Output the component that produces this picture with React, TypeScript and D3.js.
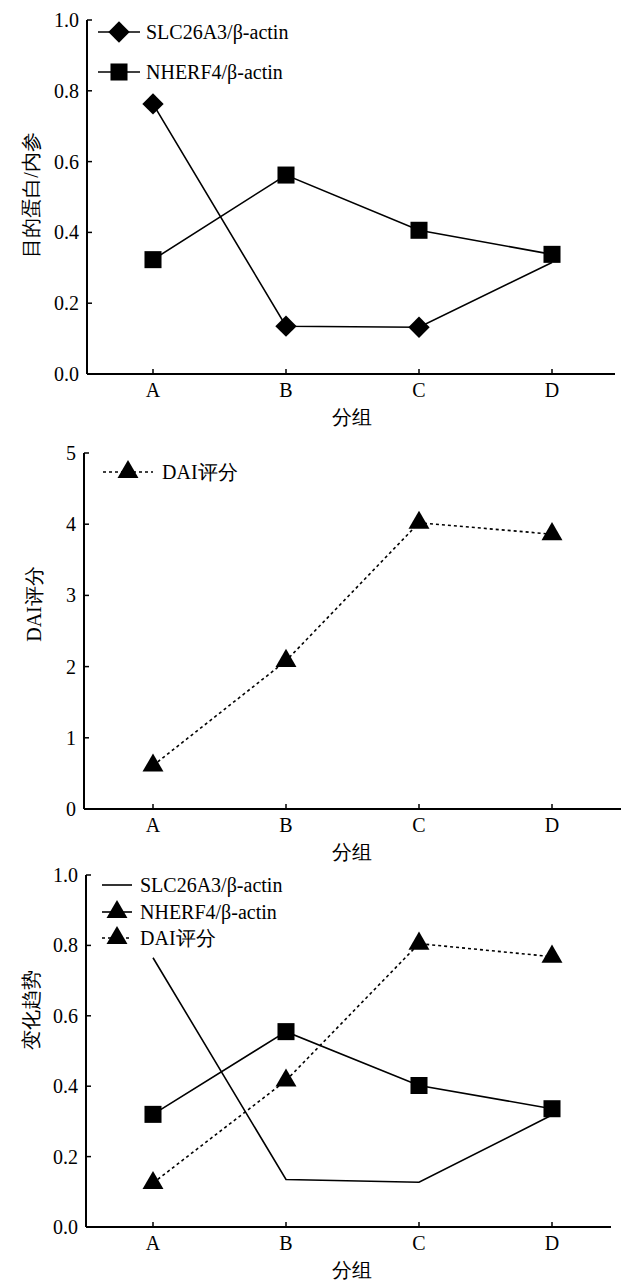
import React, { useRef, useEffect } from 'react';
import * as d3 from 'd3';

const groups = ['A', 'B', 'C', 'D'];

// panel 1: protein ratios
const slcRatio = [0.763, 0.135, 0.132, 0.315];
const nherfRatio = [0.323, 0.562, 0.406, 0.338];

// panel 2: DAI score
const daiScore = [0.61, 2.08, 4.02, 3.86];

// panel 3: trend (normalised)
const slcTrend = [0.765, 0.135, 0.127, 0.318];
const nherfTrend = [0.32, 0.555, 0.402, 0.336];
const daiTrend = [0.125, 0.416, 0.805, 0.768];

const ratioTicks = [0, 0.2, 0.4, 0.6, 0.8, 1.0];
const daiTicks = [0, 1, 2, 3, 4, 5];

const serif = "'Liberation Serif', 'Times New Roman', Times, 'DejaVu Serif', serif";

function App() {
    const chartRef = useRef(null);

    useEffect(() => {
        const width = 621;
        const height = 1280;

        const svg = d3
            .select(chartRef.current)
            .append('svg')
            .attr('width', width)
            .attr('height', height)
            .style('display', 'block');

        const x = d3.scalePoint().domain(groups).range([153, 552]);

        const diamond = d3.symbol().type(d3.symbolDiamond2).size(290);
        const square = d3.symbol().type(d3.symbolSquare).size(290);
        const triangle = d3.symbol().type(d3.symbolTriangle).size(190);

        const txt = (sel) => sel.style('font-family', serif).attr('font-size', 20);

        // draw axes for one panel
        function drawAxes(cfg) {
            const { y, x0, x1, ticks, fmt, yLabel, yLabelX, yLabelY } = cfg;
            const g = svg.append('g');
            const y0 = y.range()[0];
            const yTop = y.range()[1];

            g.append('line')
                .attr('x1', x0).attr('x2', x0)
                .attr('y1', yTop).attr('y2', y0)
                .attr('stroke', '#000').attr('stroke-width', 2);
            g.append('line')
                .attr('x1', x0).attr('x2', x1)
                .attr('y1', y0).attr('y2', y0)
                .attr('stroke', '#000').attr('stroke-width', 2);

            // y ticks point inward
            g.selectAll('.ytick')
                .data(ticks)
                .enter().append('line')
                .attr('x1', x0).attr('x2', x0 + 5)
                .attr('y1', (d) => y(d)).attr('y2', (d) => y(d))
                .attr('stroke', '#000').attr('stroke-width', 1.5);
            g.selectAll('.ylab')
                .data(ticks)
                .enter().append('text')
                .attr('x', x0 - 8)
                .attr('y', (d) => y(d))
                .attr('dy', '0.35em')
                .attr('text-anchor', 'end')
                .call(txt)
                .text((d) => fmt(d));

            g.selectAll('.xtick')
                .data(groups)
                .enter().append('line')
                .attr('x1', (d) => x(d)).attr('x2', (d) => x(d))
                .attr('y1', y0).attr('y2', y0 - 5)
                .attr('stroke', '#000').attr('stroke-width', 1.5);
            g.selectAll('.xlab')
                .data(groups)
                .enter().append('text')
                .attr('x', (d) => x(d))
                .attr('y', y0 + 16)
                .attr('dy', '0.35em')
                .attr('text-anchor', 'middle')
                .call(txt)
                .text((d) => d);
            g.append('text')
                .attr('x', 352)
                .attr('y', y0 + 43)
                .attr('dy', '0.35em')
                .attr('text-anchor', 'middle')
                .call(txt)
                .text('分组');

            g.append('text')
                .attr('transform', `translate(${yLabelX}, ${yLabelY}) rotate(-90)`)
                .attr('text-anchor', 'middle')
                .attr('dy', '0.35em')
                .call(txt)
                .text(yLabel);
        }

        function drawSeries(values, y, opts) {
            const line = d3.line()
                .x((d, i) => x(groups[i]))
                .y((d) => y(d));
            svg.append('path')
                .datum(values)
                .attr('d', line)
                .attr('fill', 'none')
                .attr('stroke', '#000')
                .attr('stroke-width', 1.6)
                .attr('stroke-dasharray', opts.dash ? '3 3' : null);
            if (opts.symbol) {
                const pts = opts.markCount ? values.slice(0, opts.markCount) : values;
                svg.selectAll(null)
                    .data(pts)
                    .enter().append('path')
                    .attr('d', opts.symbol)
                    .attr('transform', (d, i) => `translate(${x(groups[i])}, ${y(d)})`)
                    .attr('fill', '#000');
            }
        }

        function legendRow(lx, ly, len, sym, dash, label, tx) {
            svg.append('line')
                .attr('x1', lx).attr('x2', lx + len)
                .attr('y1', ly).attr('y2', ly)
                .attr('stroke', '#000').attr('stroke-width', 1.6)
                .attr('stroke-dasharray', dash ? '3 3' : null);
            if (sym) {
                svg.append('path')
                    .attr('d', sym)
                    .attr('transform', `translate(${lx + len / 2}, ${ly})`)
                    .attr('fill', '#000');
            }
            svg.append('text')
                .attr('x', tx)
                .attr('y', ly)
                .attr('dy', '0.35em')
                .call(txt)
                .text(label);
        }

        // Panel 1
        const y1 = d3.scaleLinear().domain([0, 1]).range([374, 20]);
        drawAxes({ y: y1, x0: 87, x1: 615, ticks: ratioTicks, fmt: d3.format('.1f'),
            yLabel: '目的蛋白/内参', yLabelX: 31, yLabelY: 195 });
        drawSeries(slcRatio, y1, { symbol: diamond, markCount: 3 });
        drawSeries(nherfRatio, y1, { symbol: square });
        legendRow(98, 32, 42, diamond, false, 'SLC26A3/β-actin', 146);
        legendRow(98, 72, 42, square, false, 'NHERF4/β-actin', 146);

        // Panel 2
        const y2 = d3.scaleLinear().domain([0, 5]).range([809, 453]);
        drawAxes({ y: y2, x0: 84, x1: 621, ticks: daiTicks, fmt: d3.format('d'),
            yLabel: 'DAI评分', yLabelX: 34, yLabelY: 604 });
        drawSeries(daiScore, y2, { symbol: triangle, dash: true });
        legendRow(103, 472, 50, triangle, true, 'DAI评分', 162);

        // Panel 3
        const y3 = d3.scaleLinear().domain([0, 1]).range([1227, 875]);
        drawAxes({ y: y3, x0: 86, x1: 611, ticks: ratioTicks, fmt: d3.format('.1f'),
            yLabel: '变化趋势', yLabelX: 31, yLabelY: 1010 });
        drawSeries(slcTrend, y3, {});
        drawSeries(nherfTrend, y3, { symbol: square });
        drawSeries(daiTrend, y3, { symbol: triangle, dash: true });
        legendRow(102, 885, 30, null, false, 'SLC26A3/β-actin', 140);
        legendRow(102, 912, 30, triangle, false, 'NHERF4/β-actin', 140);
        legendRow(102, 938, 30, triangle, true, 'DAI评分', 140);

        return () => {
            svg.remove();
        };
    }, []);

    return (
        <div ref={chartRef} style={{ position: 'absolute', left: 0, top: 0 }}></div>
    );
}

export default App;
